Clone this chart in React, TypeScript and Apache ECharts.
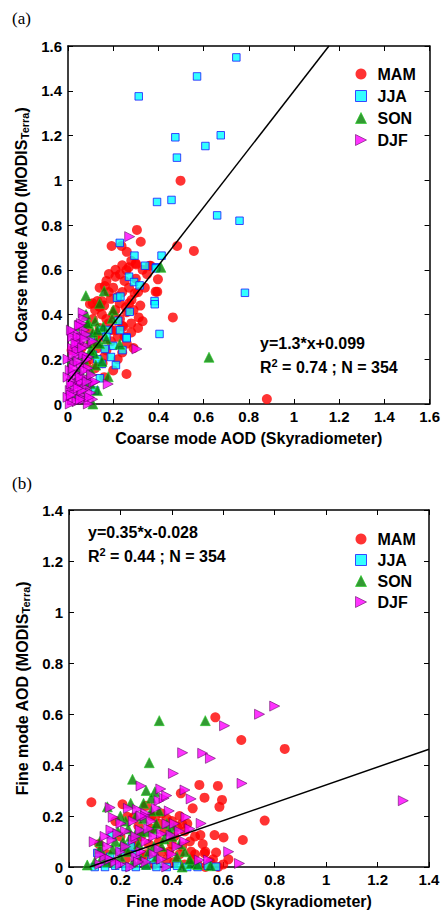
import React, { useEffect, useRef } from "react";
import * as echarts from "echarts";

// ---------- Data ----------
const SEASONS = ["MAM", "JJA", "SON", "DJF"];

// Panel (a): coarse mode AOD, [Skyradiometer, MODIS Terra]
const COARSE_MAM = [
  [0.498, 0.998], [0.305, 0.778], [0.322, 0.725], [0.193, 0.706], [0.237, 0.706], [0.483, 0.706],
  [0.557, 0.684], [0.30, 0.629], [0.269, 0.611], [0.361, 0.618], [0.301, 0.624], [0.366, 0.618],
  [0.181, 0.581], [0.21, 0.569], [0.259, 0.599], [0.398, 0.557], [0.163, 0.527], [0.395, 0.502],
  [0.097, 0.447], [0.141, 0.435], [0.229, 0.45], [0.281, 0.465], [0.295, 0.495], [0.464, 0.387],
  [0.313, 0.387], [0.244, 0.345], [0.259, 0.134], [0.153, 0.182], [0.16, 0.21], [0.88, 0.022],
  [0.109, 0.45], [0.138, 0.435], [0.256, 0.432], [0.388, 0.502], [0.24, 0.35], [0.17, 0.24],
  [0.12, 0.42], [0.15, 0.46], [0.18, 0.5], [0.2, 0.52], [0.22, 0.48], [0.25, 0.55], [0.27, 0.52],
  [0.3, 0.56], [0.33, 0.6], [0.35, 0.58], [0.2, 0.4], [0.23, 0.38], [0.26, 0.41], [0.28, 0.36],
  [0.18, 0.36], [0.15, 0.3], [0.19, 0.28], [0.22, 0.3], [0.26, 0.27], [0.28, 0.32], [0.13, 0.25],
  [0.1, 0.2], [0.12, 0.16], [0.2, 0.15], [0.14, 0.34], [0.32, 0.44], [0.34, 0.52], [0.06, 0.25],
  [0.08, 0.18], [0.11, 0.38], [0.17, 0.55], [0.23, 0.58], [0.28, 0.64], [0.26, 0.68], [0.15, 0.4],
  [0.21, 0.33], [0.24, 0.23], [0.16, 0.12], [0.09, 0.33], [0.016, 0.24],
  [0.14, 0.52], [0.16, 0.44], [0.19, 0.47], [0.21, 0.42], [0.24, 0.5], [0.27, 0.45], [0.29, 0.42],
  [0.31, 0.5], [0.24, 0.62], [0.21, 0.6], [0.31, 0.34], [0.19, 0.33], [0.12, 0.3], [0.1, 0.27],
  [0.22, 0.2], [0.29, 0.25], [0.13, 0.46], [0.17, 0.38], [0.25, 0.3], [0.33, 0.37],
];
const COARSE_JJA = [
  [0.313, 1.375], [0.571, 1.464], [0.745, 1.549], [0.475, 1.192], [0.676, 1.201], [0.482, 1.101],
  [0.608, 1.153], [0.394, 0.903], [0.458, 0.912], [0.66, 0.843], [0.759, 0.819], [0.229, 0.72],
  [0.294, 0.663], [0.414, 0.663], [0.341, 0.618], [0.391, 0.611], [0.783, 0.497], [0.388, 0.606],
  [0.27, 0.569], [0.292, 0.545], [0.317, 0.53], [0.217, 0.475], [0.232, 0.48], [0.383, 0.46],
  [0.384, 0.446], [0.273, 0.412], [0.222, 0.372], [0.405, 0.313], [0.178, 0.331], [0.145, 0.331],
  [0.259, 0.298], [0.241, 0.241], [0.163, 0.246], [0.212, 0.174], [0.15, 0.179], [0.141, 0.115],
  [0.26, 0.294], [0.2, 0.26], [0.17, 0.3], [0.19, 0.21], [0.23, 0.33], [0.11, 0.22], [0.12, 0.06],
  [0.08, 0.1], [0.1, 0.3], [0.13, 0.2],
];
const COARSE_SON = [
  [0.624, 0.209], [0.411, 0.611], [0.16, 0.505], [0.079, 0.484], [0.2, 0.42], [0.195, 0.383],
  [0.089, 0.363], [0.156, 0.345], [0.229, 0.267], [0.126, 0.278], [0.043, 0.301], [0.123, 0.174],
  [0.178, 0.122], [0.116, 0.226], [0.087, 0.36], [0.1, 0.24], [0.07, 0.2], [0.05, 0.15],
  [0.09, 0.12], [0.06, 0.05], [0.04, 0.26], [0.11, 0.32], [0.14, 0.27], [0.08, 0.08], [0.03, 0.1],
  [0.13, 0.06], [0.02, 0.2], [0.1, 0.15], [0.07, 0.31], [0.12, 0.37], [0.11, 0.0],
  [0.06, 0.22], [0.09, 0.27], [0.13, 0.33], [0.15, 0.19], [0.17, 0.29], [0.05, 0.35], [0.1, 0.09],
  [0.08, 0.4], [0.14, 0.45], [0.04, 0.04],
];
const COARSE_DJF = [
  [0.273, 0.748], [0.067, 0.408], [0.053, 0.353], [0.305, 0.246], [0.178, 0.089], [0.112, 0.095],
  [0.109, 0.021], [0.072, 0.331], [0.07, 0.38], [0.06, 0.3], [0.04, 0.28], [0.08, 0.26],
  [0.02, 0.25], [0.05, 0.22], [0.09, 0.21], [0.03, 0.18], [0.06, 0.17], [0.01, 0.15], [0.04, 0.13],
  [0.07, 0.12], [0.02, 0.1], [0.05, 0.09], [0.08, 0.07], [0.01, 0.06], [0.03, 0.05], [0.06, 0.04],
  [0.02, 0.02], [0.04, 0.01], [0.07, 0.02], [0.01, 0.0], [0.03, 0.32], [0.06, 0.36], [0.05, 0.27],
  [0.09, 0.16], [0.1, 0.05], [0.0, 0.12], [0.0, 0.2], [0.0, 0.03], [0.11, 0.28], [0.08, 0.31],
  [0.12, 0.1], [0.02, 0.3], [0.05, 0.35], [0.04, 0.24], [0.07, 0.22], [0.09, 0.0], [0.06, 0.1],
  [0.03, 0.14], [0.015, 0.33], [0.025, 0.22], [0.035, 0.08], [0.045, 0.19], [0.055, 0.12],
  [0.065, 0.06], [0.075, 0.15], [0.085, 0.1], [0.095, 0.03], [0.015, 0.04], [0.025, 0.16],
  [0.045, 0.3], [0.055, 0.02], [0.035, 0.27], [0.065, 0.25], [0.085, 0.2], [0.105, 0.13],
  [0.015, 0.09], [0.045, 0.07], [0.075, 0.29],
];

// Panel (b): fine mode AOD
const FINE_MAM = [
  [0.569, 0.587], [0.67, 0.498], [0.839, 0.463], [0.507, 0.322], [0.579, 0.318], [0.435, 0.289],
  [0.527, 0.272], [0.595, 0.263], [0.087, 0.254], [0.208, 0.246], [0.585, 0.236], [0.481, 0.23],
  [0.227, 0.197], [0.761, 0.182], [0.4, 0.18], [0.42, 0.16], [0.511, 0.125], [0.566, 0.125],
  [0.601, 0.116], [0.676, 0.106], [0.117, 0.09], [0.475, 0.06], [0.572, 0.057], [0.527, 0.054],
  [0.335, 0.197], [0.44, 0.169], [0.251, 0.195], [0.3, 0.24], [0.36, 0.21], [0.38, 0.19],
  [0.45, 0.14], [0.32, 0.15], [0.28, 0.12], [0.35, 0.1], [0.4, 0.09], [0.43, 0.05], [0.48, 0.03],
  [0.5, 0.01], [0.55, 0.02], [0.6, 0.01], [0.45, 0.01], [0.38, 0.03], [0.3, 0.05], [0.25, 0.08],
  [0.2, 0.12], [0.22, 0.03], [0.15, 0.05], [0.33, 0.01], [0.58, 0.0], [0.52, 0.09], [0.27, 0.16],
  [0.41, 0.12], [0.36, 0.06], [0.47, 0.1], [0.18, 0.18], [0.62, 0.03],
  [0.32, 0.2], [0.35, 0.17], [0.37, 0.14], [0.43, 0.2], [0.46, 0.17], [0.49, 0.12], [0.53, 0.06],
  [0.56, 0.03], [0.44, 0.08], [0.39, 0.06], [0.31, 0.09], [0.26, 0.1], [0.23, 0.06], [0.17, 0.02],
  [0.49, 0.05], [0.41, 0.02], [0.53, 0.0], [0.28, 0.04],
];
const FINE_JJA = [
  [0.1, 0.0], [0.14, 0.0], [0.18, 0.005], [0.22, 0.0], [0.26, 0.0], [0.3, 0.005], [0.34, 0.0],
  [0.38, 0.0], [0.42, 0.005], [0.46, 0.0], [0.5, 0.0], [0.54, 0.005], [0.572, 0.001], [0.16, 0.04],
  [0.2, 0.06], [0.26, 0.05], [0.166, 0.125], [0.24, 0.08], [0.32, 0.03], [0.11, 0.055],
];
const FINE_SON = [
  [0.351, 0.574], [0.53, 0.574], [0.312, 0.409], [0.247, 0.344], [0.334, 0.295], [0.149, 0.236],
  [0.407, 0.158], [0.303, 0.138], [0.33, 0.15], [0.121, 0.073], [0.212, 0.08], [0.071, 0.008],
  [0.475, 0.014], [0.32, 0.27], [0.29, 0.25], [0.26, 0.2], [0.22, 0.18], [0.35, 0.22], [0.38, 0.17],
  [0.18, 0.1], [0.24, 0.12], [0.27, 0.09], [0.31, 0.06], [0.36, 0.08], [0.42, 0.04], [0.45, 0.06],
  [0.15, 0.02], [0.2, 0.04], [0.25, 0.02], [0.3, 0.01], [0.5, 0.01], [0.4, 0.12], [0.34, 0.04],
  [0.1, 0.02], [0.28, 0.14], [0.19, 0.14], [0.44, 0.0], [0.55, 0.005], [0.23, 0.06],
  [0.13, 0.04], [0.17, 0.07], [0.21, 0.1], [0.23, 0.15], [0.26, 0.13], [0.29, 0.19], [0.32, 0.22],
  [0.34, 0.17], [0.37, 0.11], [0.39, 0.14], [0.28, 0.03], [0.33, 0.08], [0.2, 0.2], [0.12, 0.1],
  [0.43, 0.09], [0.47, 0.03], [0.24, 0.25], [0.3, 0.3],
];
const FINE_DJF = [
  [0.8, 0.631], [0.741, 0.599], [0.605, 0.554], [0.442, 0.448], [0.52, 0.446], [0.55, 0.426],
  [0.406, 0.367], [0.28, 0.318], [0.673, 0.328], [0.357, 0.306], [0.451, 0.302], [0.475, 0.267],
  [0.35, 0.26], [0.231, 0.23], [0.266, 0.226], [0.299, 0.21], [0.172, 0.195], [0.455, 0.195],
  [1.3, 0.26], [0.202, 0.171], [0.514, 0.171], [0.163, 0.145], [0.397, 0.125], [0.098, 0.099],
  [0.507, 0.027], [0.621, 0.06], [0.663, 0.014], [0.543, 0.027], [0.16, 0.233], [0.296, 0.2],
  [0.381, 0.169], [0.277, 0.145], [0.43, 0.14], [0.167, 0.106], [0.251, 0.106], [0.14, 0.04],
  [0.37, 0.27], [0.38, 0.28], [0.32, 0.18], [0.22, 0.14], [0.3, 0.1], [0.35, 0.07], [0.2, 0.06],
  [0.26, 0.04], [0.18, 0.02], [0.12, 0.01], [0.24, 0.0], [0.3, 0.02], [0.4, 0.05], [0.45, 0.1],
  [0.33, 0.12], [0.28, 0.06], [0.15, 0.08], [0.38, 0.0],
  [0.12, 0.05], [0.16, 0.03], [0.2, 0.01], [0.22, 0.08], [0.26, 0.12], [0.28, 0.2], [0.31, 0.15],
  [0.34, 0.23], [0.36, 0.13], [0.39, 0.22], [0.42, 0.08], [0.19, 0.13], [0.25, 0.18], [0.33, 0.05],
  [0.14, 0.12], [0.27, 0.02], [0.36, 0.03], [0.41, 0.17], [0.47, 0.15],
];

// Regression fits
const COARSE_FIT = { slope: 1.3, intercept: 0.099, r2: "0.74", n: 354, label: "y=1.3*x+0.099" };
const FINE_FIT = { slope: 0.35, intercept: -0.028, r2: "0.44", n: 354, label: "y=0.35*x-0.028" };

const COARSE_AXIS = { min: 0, max: 1.6, interval: 0.2 };
const FINE_AXIS = { min: 0, max: 1.4, interval: 0.2 };

// ---------- Styles ----------
const SANS = "Liberation Sans, Arial, Helvetica, sans-serif";
const SERIF = "Liberation Serif, Times New Roman, serif";
const TRI_RIGHT = "path://M0,0L10,5L0,10Z";

const SEASON_STYLE: Record<string, any> = {
  MAM: { symbol: "circle", symbolSize: 10, itemStyle: { color: "#ff0000", borderColor: "#ff0000", borderWidth: 0 } },
  JJA: { symbol: "rect", symbolSize: 7.5, itemStyle: { color: "#00ffff", borderColor: "#1a1aff", borderWidth: 1 } },
  SON: { symbol: "triangle", symbolSize: 10, itemStyle: { color: "#008000", borderColor: "#22cc22", borderWidth: 0.8 } },
  DJF: { symbol: TRI_RIGHT, symbolSize: 10, itemStyle: { color: "#ff00ff", borderColor: "#5a005a", borderWidth: 0.7 } },
};

function fitLine(fit: { slope: number; intercept: number }, axis: { min: number; max: number }) {
  let x0 = axis.min;
  if (fit.slope * x0 + fit.intercept < axis.min) x0 = (axis.min - fit.intercept) / fit.slope;
  let x1 = axis.max;
  if (fit.slope * x1 + fit.intercept > axis.max) x1 = (axis.max - fit.intercept) / fit.slope;
  return [
    [x0, fit.slope * x0 + fit.intercept],
    [x1, fit.slope * x1 + fit.intercept],
  ];
}

const labelFont = { fontFamily: SANS, fontWeight: "bold" as const, fontSize: 15, color: "#000" };

function axisPair(kind: "x" | "y", gridIndex: number, axis: any, name: any, nameGap: number) {
  const main: any = {
    type: "value",
    gridIndex,
    min: axis.min,
    max: axis.max,
    interval: axis.interval,
    position: kind === "x" ? "bottom" : "left",
    axisLine: { show: true, onZero: false, lineStyle: { color: "#000", width: 1.5 } },
    axisTick: { show: true, inside: true, length: 5, lineStyle: { color: "#000", width: 1 } },
    axisLabel: { ...labelFont, margin: kind === "x" ? 5 : 6 },
    splitLine: { show: false },
    name,
    nameLocation: "middle",
    nameGap,
    nameRotate: kind === "y" ? 90 : 0,
    nameTextStyle: {
      fontFamily: SANS,
      fontWeight: "bold",
      fontSize: 16,
      color: "#000",
      rich: {
        b: { fontFamily: SANS, fontWeight: "bold", fontSize: 16, color: "#000", lineHeight: 18 },
        s: { fontFamily: SANS, fontWeight: "bold", fontSize: 11, color: "#000", verticalAlign: "bottom" },
      },
    },
  };
  const mirror: any = {
    type: "value",
    gridIndex,
    min: axis.min,
    max: axis.max,
    interval: axis.interval,
    position: kind === "x" ? "top" : "right",
    axisLine: { show: true, onZero: false, lineStyle: { color: "#000", width: 1.5 } },
    axisTick: { show: true, inside: true, length: 5, lineStyle: { color: "#000", width: 1 } },
    axisLabel: { show: false },
    splitLine: { show: false },
  };
  return [main, mirror];
}

function seasonSeries(gridNo: number, datasets: number[][][]) {
  return SEASONS.map((s, i) => ({
    type: "scatter",
    name: s,
    xAxisIndex: gridNo * 2,
    yAxisIndex: gridNo * 2,
    data: datasets[i],
    symbol: SEASON_STYLE[s].symbol,
    symbolSize: SEASON_STYLE[s].symbolSize,
    symbolKeepAspect: true,
    itemStyle: SEASON_STYLE[s].itemStyle,
    z: 2 + i,
    clip: true,
  }));
}

function legendFor(top: number, gap: number) {
  return {
    data: SEASONS.map((s) => ({
      name: s,
      icon: SEASON_STYLE[s].symbol,
      itemStyle: SEASON_STYLE[s].itemStyle,
    })),
    orient: "vertical",
    left: 350,
    top,
    itemWidth: 11,
    itemHeight: 11,
    itemGap: gap,
    selectedMode: false,
    textStyle: { fontFamily: SANS, fontWeight: "bold", fontSize: 16, color: "#000", lineHeight: 16, padding: [0, 0, 0, 6] },
  };
}

const annoRich = {
  b: { fontFamily: SANS, fontWeight: "bold", fontSize: 16, fill: "#000", lineHeight: 20 },
  p: { fontFamily: SANS, fontWeight: "bold", fontSize: 11, fill: "#000", verticalAlign: "top" },
};

function annotation(x: number, y: number, fit: any) {
  return [
    {
      type: "text",
      left: x,
      top: y - 10,
      style: { text: `{b|${fit.label}}`, rich: annoRich, fill: "#000" },
    },
    {
      type: "text",
      left: x,
      top: y + 12,
      style: { text: `{b|R}{p|2}{b| = ${fit.r2} ; N = ${fit.n}}`, rich: annoRich, fill: "#000" },
    },
  ];
}

export default function App() {
  const ref = useRef<HTMLDivElement>(null);
  useEffect(() => {
    if (!ref.current) return;
    const chart = echarts.init(ref.current, undefined, { renderer: "svg" });
    const [xa0, xa1] = axisPair("x", 0, COARSE_AXIS, "Coarse mode AOD (Skyradiometer)", 26);
    const [ya0, ya1] = axisPair("y", 0, COARSE_AXIS, "{b|Coarse mode AOD (MODIS}{s|Terra}{b|)}", 33);
    const [xb0, xb1] = axisPair("x", 1, FINE_AXIS, "Fine mode AOD (Skyradiometer)", 26);
    const [yb0, yb1] = axisPair("y", 1, FINE_AXIS, "{b|Fine mode AOD (MODIS}{s|Terra}{b|)}", 33);

    const option: any = {
      animation: false,
      backgroundColor: "#fff",
      grid: [
        { left: 68, top: 46, width: 363, height: 358, show: false },
        { left: 69, top: 510, width: 360, height: 357, show: false },
      ],
      xAxis: [xa0, xa1, xb0, xb1],
      yAxis: [ya0, ya1, yb0, yb1],
      legend: [legendFor(61, 6), legendFor(526, 5)],
      series: [
        ...seasonSeries(0, [COARSE_MAM, COARSE_JJA, COARSE_SON, COARSE_DJF]),
        {
          type: "line",
          name: "fitA",
          xAxisIndex: 0,
          yAxisIndex: 0,
          data: fitLine(COARSE_FIT, COARSE_AXIS),
          symbol: "none",
          lineStyle: { color: "#000", width: 1.5 },
          z: 10,
        },
        ...seasonSeries(1, [FINE_MAM, FINE_JJA, FINE_SON, FINE_DJF]),
        {
          type: "line",
          name: "fitB",
          xAxisIndex: 2,
          yAxisIndex: 2,
          data: fitLine(FINE_FIT, FINE_AXIS),
          symbol: "none",
          lineStyle: { color: "#000", width: 1.5 },
          z: 10,
        },
      ],
      graphic: [
        { type: "text", left: 12, top: 10, style: { text: "(a)", font: `17px ${SERIF}`, fill: "#000" } },
        { type: "text", left: 12, top: 475, style: { text: "(b)", font: `17px ${SERIF}`, fill: "#000" } },
        ...annotation(260, 345, COARSE_FIT),
        ...annotation(88, 534, FINE_FIT),
      ],
    };
    chart.setOption(option);
    return () => chart.dispose();
  }, []);
  return (
    <div
      ref={ref}
      style={{ position: "fixed", left: 0, top: 0, width: 443, height: 912, background: "#fff" }}
    />
  );
}
